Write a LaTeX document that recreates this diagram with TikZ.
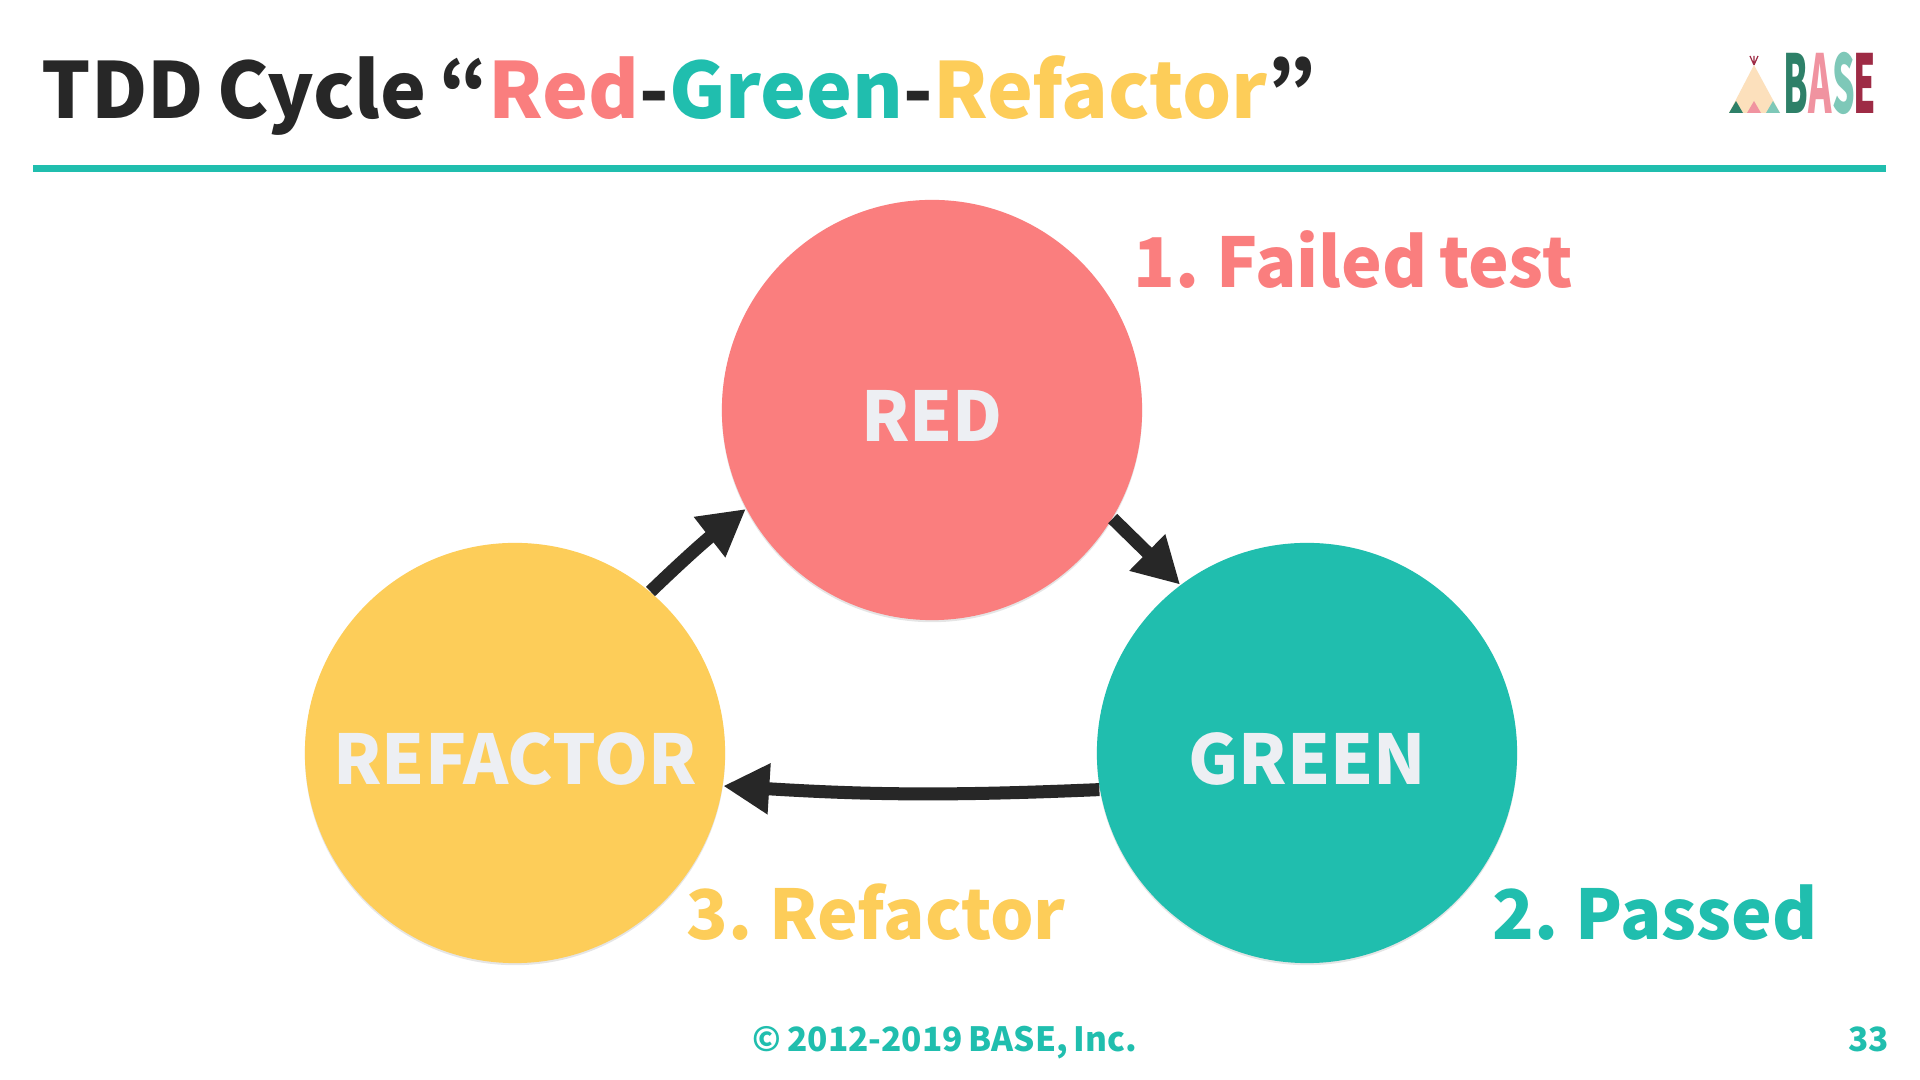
\documentclass[tikz,border=0pt]{standalone}
\usepackage{fontspec}
\setmainfont{Noto Sans CJK JP}[RawFeature=+palt, WordSpace=0.75]
\usetikzlibrary{arrows.meta,shadows}
\definecolor{basered}{HTML}{FA7E7E}
\definecolor{basegreen}{HTML}{20BEAE}
\definecolor{baseyellow}{HTML}{FDCD59}
\definecolor{baseink}{HTML}{272727}
\definecolor{basepale}{HTML}{EDEFF3}
\definecolor{logogreen}{HTML}{2E8068}
\definecolor{logopink}{HTML}{F093A0}
\definecolor{logomint}{HTML}{7EC8B8}
\definecolor{logowine}{HTML}{9E2B45}
\definecolor{logotent}{HTML}{FCE0BC}
\begin{document}
\begin{tikzpicture}[
  x=0.01cm, y=-0.01cm,
  bubble/.style={circle, minimum size=4.2cm, inner sep=0pt, text=basepale,
    text height=.62cm, text depth=0pt,
    font=\fontsize{19.5pt}{19.5pt}\selectfont\bfseries,
    drop shadow={shadow xshift=0pt, shadow yshift=-.6pt, opacity=.2}},
  steplabel/.style={anchor=base west, inner sep=0pt, font=\fontsize{19.5pt}{19.5pt}\selectfont\bfseries},
  footer/.style={anchor=base, inner sep=0pt, text=basegreen, font=\fontsize{9.5pt}{9.5pt}\selectfont\bfseries},
  flow/.style={draw=baseink, line width=.13cm, -{Triangle[length=.46cm,width=.48cm]}},
  logoletter/.style={anchor=base, inner sep=0pt, transform shape, xscale=.44,
    font=\fontsize{23pt}{23pt}\selectfont\bfseries}
]
\useasboundingbox (0,0) rectangle (1920,1080);
\fill[white] (0,0) rectangle (1920,1080);

\node[anchor=base west, inner sep=0pt, text=baseink, font=\fontsize{22pt}{22pt}\selectfont\bfseries] (title) at (41,119)
  {TDD Cycle “\textcolor{basered}{Red}-\textcolor{basegreen}{Green}-\textcolor{baseyellow}{Refactor}”};
\fill[basegreen] (33,165) rectangle (1886,172);

% logo
\fill[logotent] (1754,65) -- (1780,113) -- (1729,113) -- cycle;
\fill[logogreen] (1736,101) -- (1743,113) -- (1729,113) -- cycle;
\fill[logopink] (1754,101) -- (1761,113) -- (1747,113) -- cycle;
\fill[logomint] (1773,101) -- (1780,113) -- (1766,113) -- cycle;
\draw[logowine, line width=.012cm] (1754,65) -- (1754,56) (1754,65) -- (1750,56) (1754,65) -- (1758,56);
\node[logoletter, text=logogreen] (logob) at (1796,114) {B};
\node[logoletter, text=logopink] (logoa) at (1820,114) {A};
\node[logoletter, text=logomint] (logos) at (1844,114) {S};
\node[logoletter, text=logowine] (logoe) at (1865,114) {E};

\node[bubble, fill=basered] (red) at (932,410) {RED};
\node[bubble, fill=basegreen] (green) at (1307,753) {GREEN};
\node[bubble, fill=baseyellow] (refactor) at (515,753) {REFACTOR};

\draw[flow] (red.-31) -- (green.127);
\draw[flow] (green.190) to[bend left=3] (refactor.-9);
\draw[flow] (refactor.50) to[bend left=3] (red.208);

\node[steplabel, text=basered] (failed) at (1133,288) {1. Failed test};
\node[steplabel, text=basegreen] (passed) at (1492,940) {2. Passed};
\node[steplabel, text=baseyellow] (refactored) at (686,940) {3. Refactor};

\node[footer] (copyright) at (945,1052) {© 2012-2019 BASE, Inc.};
\node[footer, anchor=base east] (page) at (1890,1052) {33};
\end{tikzpicture}
\end{document}
